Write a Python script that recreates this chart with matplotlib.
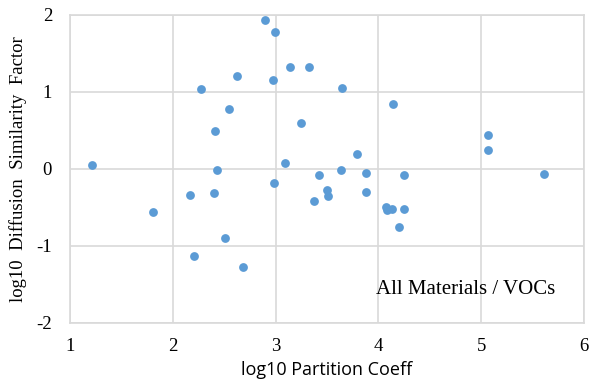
import matplotlib
matplotlib.use("Agg")
import matplotlib.pyplot as plt

# log10 partition coefficient vs log10 diffusion similarity factor
log_k = [1.21, 1.81, 2.17, 2.21, 2.27, 2.40, 2.41, 2.43, 2.51, 2.55,
         2.62, 2.68, 2.90, 2.97, 2.98, 2.99, 3.09, 3.14, 3.25, 3.32,
         3.37, 3.42, 3.50, 3.51, 3.64, 3.65, 3.79, 3.88, 3.88, 4.07,
         4.08, 4.13, 4.14, 4.20, 4.25, 4.25, 5.07, 5.07, 5.61]
log_dsf = [0.05, -0.56, -0.34, -1.13, 1.04, -0.31, 0.49, -0.01, -0.90, 0.78,
           1.21, -1.27, 1.94, 1.16, -0.18, 1.78, 0.08, 1.32, 0.60, 1.32,
           -0.42, -0.08, -0.28, -0.35, -0.01, 1.05, 0.20, -0.05, -0.30, -0.49,
           -0.53, -0.52, 0.84, -0.75, -0.08, -0.52, 0.44, 0.25, -0.07]

x_ticks = [1, 2, 3, 4, 5, 6]
y_ticks = [-2, -1, 0, 1, 2]

serif = "Liberation Serif"
grid_col = "#d9d9d9"

fig = plt.figure(figsize=(5.89, 3.83), dpi=100)
ax = fig.add_axes([0.119, 0.157, 0.8725, 0.804])

ax.scatter(log_k, log_dsf, s=40, color="#5b9bd5", zorder=3, linewidths=0)

ax.set_xlim(1, 6)
ax.set_ylim(-2, 2)
ax.set_xticks(x_ticks)
ax.set_yticks(y_ticks)
ax.set_xticklabels([str(v) for v in x_ticks], fontfamily=serif, fontsize=13.5)
ax.set_yticklabels([str(v) for v in y_ticks], fontfamily=serif, fontsize=13.5)
ax.tick_params(axis="x", length=0, pad=11)
ax.tick_params(axis="y", length=0, pad=13)
ax.grid(color=grid_col, linewidth=1.2)
ax.set_axisbelow(True)
for sp in ax.spines.values():
    sp.set_color(grid_col)
    sp.set_linewidth(1.2)

ax.set_xlabel("log10 Partition Coeff", fontfamily="Open Sans", fontsize=13, labelpad=4)
ax.set_ylabel("log10  Diffusion  Similarity  Factor", fontfamily=serif, fontsize=13.5, labelpad=7)

ax.text(3.98, -1.57, "All Materials / VOCs", fontfamily=serif, fontsize=15, va="center", ha="left")

fig.savefig("out.png", dpi=100)
